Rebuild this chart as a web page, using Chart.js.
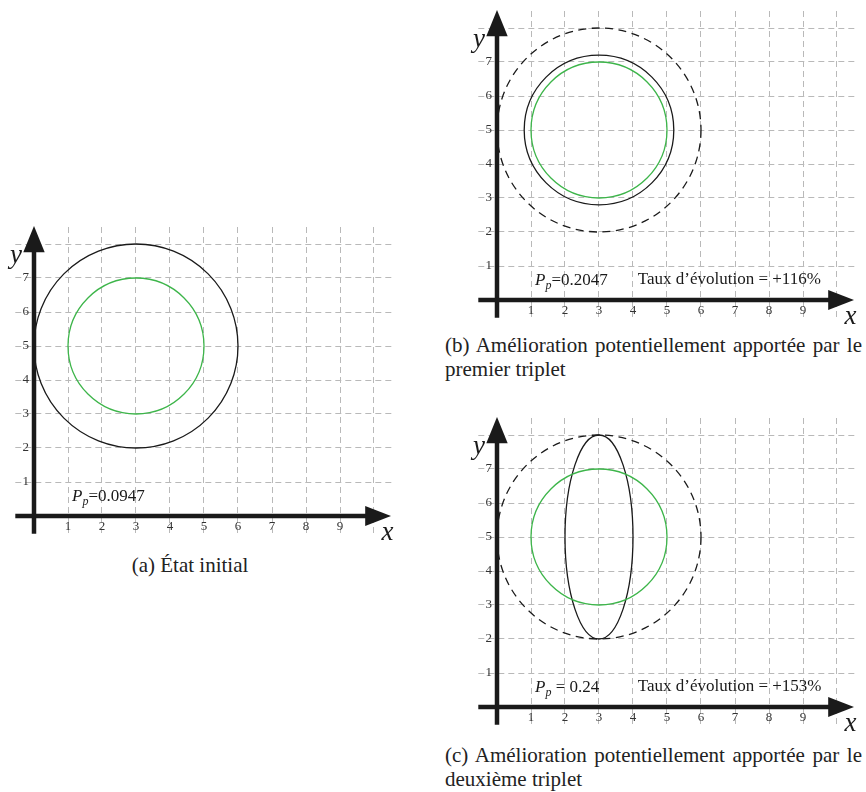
<!DOCTYPE html>
<html><head><meta charset="utf-8">
<script src="https://cdn.jsdelivr.net/npm/chart.js@4/dist/chart.umd.min.js"></script>
<style>
html,body{margin:0;padding:0;width:866px;height:792px;overflow:hidden;background:#fff;}
canvas{position:absolute;}
.cap{position:absolute;font-family:'Liberation Serif','Times New Roman',serif;font-size:21px;line-height:24px;color:#222;white-space:nowrap;}
.just{text-align:justify;text-align-last:justify;white-space:normal;}
</style></head><body>
<canvas id="cv-a" width="410" height="330"></canvas>
<canvas id="cv-b" width="410" height="330"></canvas>
<canvas id="cv-c" width="410" height="330"></canvas>
<div class="cap" id="cap-a" style="left:40px;top:553px;width:300px;text-align:center;"></div>
<div class="cap" id="cap-b" style="left:445px;top:333px;"><div class="just" style="width:417px"></div><div></div></div>
<div class="cap" id="cap-c" style="left:445px;top:743px;"><div class="just" style="width:417px"></div><div></div></div>
<script>
// ---- data ----
const xTicks = [1,2,3,4,5,6,7,8,9,10];
const xTickLabels = ['1','2','3','4','5','6','7','8','9',''];
const yTicks = [1,2,3,4,5,6,7,8];
const yTickLabels = ['1','2','3','4','5','6','7',''];

const panels = ['a','b','c'];
const ppValues = ['0.0947','0.2047','0.24'];
const ppSpaced = [false,false,true];
const tauxValues = [null,'+116%','+153%'];
const captionLine1 = ['(a) État initial','(b) Amélioration potentiellement apportée par le','(c) Amélioration potentiellement apportée par le'];
const captionLine2 = ['','premier triplet','deuxième triplet'];

// ellipses: centre and semi-axes in data units
const shapePanel = ['a','a','b','b','b','c','c','c'];
const shapeKind  = ['current','target','initial','current','target','initial','current','target'];
const shapeCx = [3,3,3,3,3,3,3,3];
const shapeCy = [5,5,5,5,5,5,5,5];
const shapeRx = [3,2,3,2.2,2,3,1,2];
const shapeRy = [3,2,3,2.2,2,3,3,2];

// ---- layout / style ----
const panelOrigin = {a:[33.7,515.7], b:[497.3,300], c:[496.8,707]};
const kindStyle = {
  current:{color:'#1a1a1a', width:1.3, dash:[]},
  target:{color:'#3db54a', width:1.3, dash:[]},
  initial:{color:'#1a1a1a', width:1.3, dash:[8,5.5]}
};
const SERIF = "'Liberation Serif','Times New Roman',serif";

const ellipsePlugin = {
  id:'ellipses',
  beforeDatasetsDraw(chart){
    const {ctx, scales:{x,y}} = chart;
    chart.data.datasets.forEach(ds=>{
      const e = ds.ellipse; if(!e) return;
      const cx = x.getPixelForValue(e.cx), cy = y.getPixelForValue(e.cy);
      const rx = Math.abs(x.getPixelForValue(e.cx+e.rx)-cx);
      const ry = Math.abs(y.getPixelForValue(e.cy+e.ry)-cy);
      ctx.save();
      ctx.beginPath(); ctx.ellipse(cx,cy,rx,ry,0,0,Math.PI*2);
      ctx.strokeStyle = ds.borderColor; ctx.lineWidth = ds.borderWidth;
      ctx.setLineDash(ds.borderDash||[]); ctx.stroke();
      ctx.restore();
    });
  }
};

const axesPlugin = {
  id:'arrowAxes',
  afterDatasetsDraw(chart, args, opts){
    const {ctx, scales:{x,y}} = chart;
    const X = v=>x.getPixelForValue(v), Y = v=>y.getPixelForValue(v);
    ctx.save();
    ctx.strokeStyle = '#1a1a1a'; ctx.fillStyle = '#1a1a1a'; ctx.lineWidth = 4.5; ctx.setLineDash([]);
    // y axis
    ctx.beginPath(); ctx.moveTo(X(0), Y(-0.52)); ctx.lineTo(X(0), Y(7.9)); ctx.stroke();
    ctx.beginPath(); ctx.moveTo(X(0), Y(8.53)); ctx.lineTo(X(0)-10.7, Y(7.76)); ctx.lineTo(X(0)+10.7, Y(7.76)); ctx.closePath(); ctx.fill();
    // x axis
    ctx.beginPath(); ctx.moveTo(X(-0.55), Y(0)); ctx.lineTo(X(9.85), Y(0)); ctx.stroke();
    ctx.beginPath(); ctx.moveTo(X(10.5), Y(0)); ctx.lineTo(X(9.74), Y(0)-10); ctx.lineTo(X(9.74), Y(0)+10); ctx.closePath(); ctx.fill();
    // axis names
    ctx.fillStyle = '#1a1a1a';
    ctx.font = 'italic 27px ' + SERIF; ctx.textAlign = 'center'; ctx.textBaseline = 'alphabetic';
    ctx.fillText('y', X(-0.53), Y(7.45));
    ctx.fillText('x', X(10.4), Y(-0.7));
    // P_p annotation
    const i = opts.index;
    ctx.textAlign = 'left';
    let px = X(1.12); const pb = Y(0.44);
    ctx.font = 'italic 17px ' + SERIF; ctx.fillText('P', px, pb); px += ctx.measureText('P').width;
    ctx.font = 'italic 12px ' + SERIF; ctx.fillText('p', px, pb+4); px += ctx.measureText('p').width;
    ctx.font = '17px ' + SERIF;
    const rest = (ppSpaced[i] ? ' = ' : '=') + ppValues[i];
    ctx.fillText(rest, px, pb);
    if (tauxValues[i]) {
      ctx.font = '17px ' + SERIF;
      ctx.fillText('Taux d\u2019évolution = ' + tauxValues[i], X(4.14), Y(0.47));
    }
    ctx.restore();
  }
};

panels.forEach((p, i)=>{
  const [ox, oy] = panelOrigin[p];
  const cv = document.getElementById('cv-'+p);
  cv.style.left = (ox-34)+'px'; cv.style.top = (oy-300)+'px';
  const datasets = [];
  shapePanel.forEach((sp, k)=>{
    if (sp !== p) return;
    const st = kindStyle[shapeKind[k]];
    datasets.push({
      label: shapeKind[k], data:[{x:shapeCx[k], y:shapeCy[k]}], pointRadius:0,
      borderColor: st.color, borderWidth: st.width, borderDash: st.dash,
      ellipse:{cx:shapeCx[k], cy:shapeCy[k], rx:shapeRx[k], ry:shapeRy[k]}
    });
  });
  const gridOpts = {color:'#b9b9b9', lineWidth:1, drawTicks:false};
  new Chart(cv, {
    type:'scatter',
    data:{datasets},
    plugins:[ellipsePlugin, axesPlugin],
    options:{
      responsive:false, animation:false, events:[],
      layout:{padding:{left:15.3, top:11, right:17.3, bottom:9.6}},
      plugins:{legend:{display:false}, tooltip:{enabled:false}, arrowAxes:{index:i}},
      scales:{
        x:{type:'linear', min:-0.55, max:10.55, position:{y:0},
           afterBuildTicks:s=>{s.ticks = xTicks.map(v=>({value:v}));},
           grid:gridOpts, border:{display:false, dash:[6,4]},
           ticks:{padding:3, color:'#333', font:{family:SERIF, size:13},
                  callback:(v)=>{const j=xTicks.indexOf(v); return j<0?'':xTickLabels[j];}}},
        y:{type:'linear', min:-0.6, max:8.5, position:{x:-0.15},
           afterBuildTicks:s=>{s.ticks = yTicks.map(v=>({value:v}));},
           grid:gridOpts, border:{display:false, dash:[6,4]},
           ticks:{padding:0, color:'#333', font:{family:SERIF, size:13},
                  callback:(v)=>{const j=yTicks.indexOf(v); return j<0?'':yTickLabels[j];}}}
      }
    }
  });
  const cap = document.getElementById('cap-'+p);
  if (captionLine2[i]) {
    cap.children[0].textContent = captionLine1[i];
    cap.children[1].textContent = captionLine2[i];
  } else {
    cap.textContent = captionLine1[i];
  }
});
</script>
</body></html>
